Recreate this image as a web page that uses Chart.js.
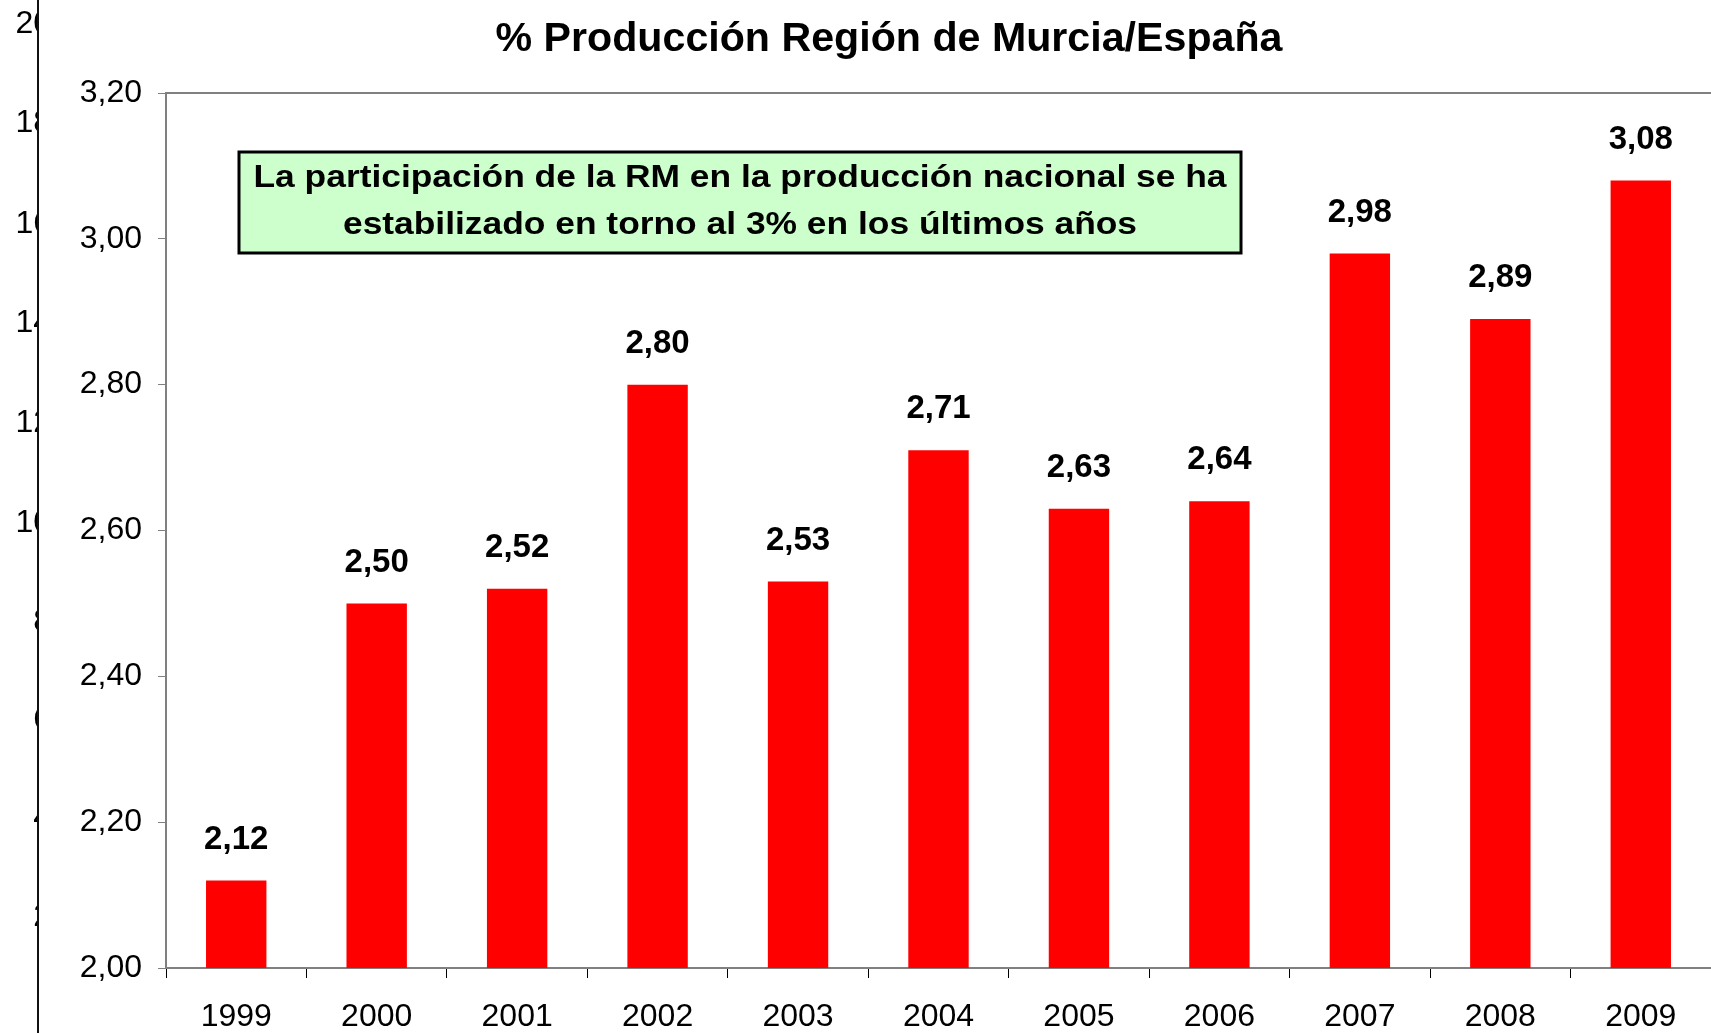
<!DOCTYPE html>
<html>
<head>
<meta charset="utf-8">
<script src="https://cdn.jsdelivr.net/npm/chart.js@4.4.1/dist/chart.umd.min.js"></script>
<style>
  html, body { margin: 0; padding: 0; background: #fff; }
  #wrap { width: 1711px; height: 1033px; position: relative; }
</style>
</head>
<body>
<div id="wrap"><canvas id="c"></canvas></div>
<script>
// values
const years = ['1999', '2000', '2001', '2002', '2003', '2004', '2005', '2006', '2007', '2008', '2009'];
const share = [2.12, 2.50, 2.52, 2.80, 2.53, 2.71, 2.63, 2.64, 2.98, 2.89, 3.08];
const yTicks = [2.0, 2.2, 2.4, 2.6, 2.8, 3.0, 3.2];
const titleText = '% Producción Región de Murcia/España';
const noteLines = ['La participación de la RM en la producción nacional se ha', 'estabilizado en torno al 3% en los últimos años'];
// clipped axis of the chart behind, at the left edge
const behindLabels = ['20', '18', '16', '14', '12', '10', '8', '6', '4', '2'];
const behindY = [24, 123, 224, 323, 423, 523, 622, 720, 818, 917];

const FONT = '"Liberation Sans", Arial, sans-serif';
const fmt = v => v.toFixed(2).replace('.', ',');

// draw text stretched/squeezed to a measured width, like the narrow source font
function fitted(ctx, text, x, y, width) {
  const w = ctx.measureText(text).width;
  ctx.save();
  ctx.translate(x, y);
  ctx.scale(width / w, 1);
  ctx.fillText(text, 0, 0);
  ctx.restore();
}

const decor = {
  id: 'decor',
  beforeDraw(chart) {
    const { ctx, chartArea } = chart;
    ctx.save();
    // top border of the plot
    ctx.strokeStyle = '#808080';
    ctx.lineWidth = 2;
    ctx.beginPath();
    ctx.moveTo(chartArea.left, chartArea.top);
    ctx.lineTo(chartArea.right, chartArea.top);
    ctx.stroke();

    // chart behind, clipped
    ctx.beginPath();
    ctx.rect(0, 0, 37, chart.height);
    ctx.clip();
    ctx.fillStyle = '#000';
    ctx.font = '32px ' + FONT;
    ctx.textAlign = 'right';
    ctx.textBaseline = 'middle';
    behindLabels.forEach((t, i) => ctx.fillText(t, 51, behindY[i]));
    ctx.restore();

    ctx.save();
    ctx.strokeStyle = '#111';
    ctx.lineWidth = 2;
    ctx.beginPath();
    ctx.moveTo(38, 0);
    ctx.lineTo(38, chart.height);
    ctx.stroke();
    ctx.restore();
  },
  afterDatasetsDraw(chart) {
    const { ctx } = chart;
    ctx.save();
    // title
    ctx.fillStyle = '#000';
    ctx.font = 'bold 41px ' + FONT;
    ctx.textAlign = 'center';
    ctx.textBaseline = 'middle';
    fitted(ctx, titleText, 889, 40, 787);

    // value labels
    ctx.font = 'bold 33px ' + FONT;
    const meta = chart.getDatasetMeta(0);
    meta.data.forEach((bar, i) => {
      ctx.fillText(fmt(share[i]), bar.x, bar.y - 41);
    });

    // note box
    ctx.fillStyle = '#CCFFCC';
    ctx.fillRect(239, 152, 1002, 101);
    ctx.strokeStyle = '#000';
    ctx.lineWidth = 3;
    ctx.strokeRect(239, 152, 1002, 101);
    ctx.fillStyle = '#000';
    ctx.font = 'bold 32px ' + FONT;
    const w1 = ctx.measureText(noteLines[0]).width;
    const sx = 973 / w1;
    ctx.translate(740, 0);
    ctx.scale(sx, 1);
    ctx.fillText(noteLines[0], 0, 178);
    ctx.fillText(noteLines[1], 0, 225);
    ctx.restore();
  }
};

new Chart(document.getElementById('c'), {
  type: 'bar',
  data: {
    labels: years,
    datasets: [{
      data: share,
      backgroundColor: '#FF0000',
      borderWidth: 0,
      barPercentage: 0.43,
      categoryPercentage: 1.0
    }]
  },
  options: {
    responsive: true,
    maintainAspectRatio: false,
    animation: false,
    layout: { padding: { top: 93, left: 0, right: 0, bottom: 0 } },
    plugins: {
      legend: { display: false },
      title: { display: false },
      tooltip: { enabled: false }
    },
    scales: {
      x: {
        grid: { offset: true, drawOnChartArea: false, tickLength: 10, color: '#000', lineWidth: 1 },
        border: { color: '#808080', width: 2 },
        ticks: { color: '#000', font: { family: FONT, size: 32 }, padding: 20, maxRotation: 0 },
        afterFit: s => { s.height = 65; }
      },
      y: {
        min: 2.0,
        max: 3.2,
        afterBuildTicks: s => { s.ticks = yTicks.map(v => ({ value: v })); },
        grid: { drawOnChartArea: false, tickLength: 8, color: '#808080', lineWidth: 1 },
        border: { color: '#808080', width: 2 },
        ticks: { color: '#000', font: { family: FONT, size: 32 }, padding: 16, callback: v => fmt(v) },
        afterFit: s => { s.width = 166; }
      }
    }
  },
  plugins: [decor]
});
</script>
</body>
</html>
